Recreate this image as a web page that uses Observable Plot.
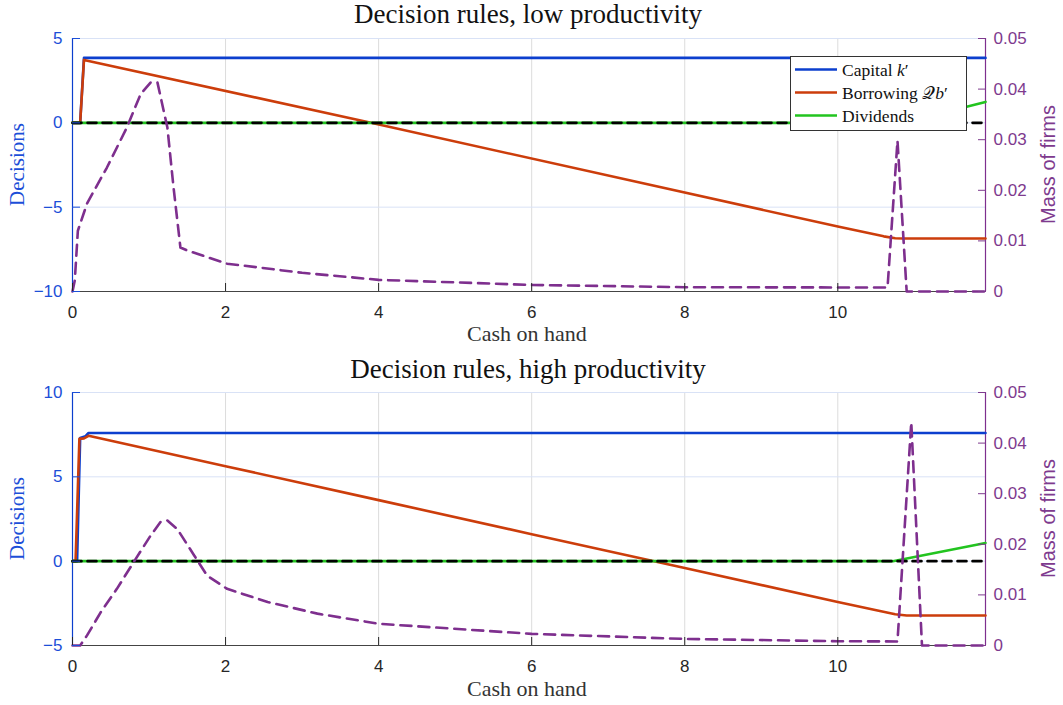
<!DOCTYPE html>
<html><head><meta charset="utf-8">
<script src="https://cdn.jsdelivr.net/npm/d3@7"></script>
<script src="https://cdn.jsdelivr.net/npm/@observablehq/plot@0.6"></script>
<style>
body{margin:0;background:#fff;}
#chart{width:1063px;height:705px;position:relative;}
#chart svg{display:block;}
</style></head><body><div id="chart"></div>
<script>
// ---------- data ----------
const xTicks = [0, 2, 4, 6, 8, 10];
const xMax = 11.93;
const massTicks = [0, 0.01, 0.02, 0.03, 0.04, 0.05];
const lowDecisionTicks = [-10, -5, 0, 5];
const highDecisionTicks = [-5, 0, 5, 10];
const titles = ["Decision rules, low productivity", "Decision rules, high productivity"];
const xLabel = "Cash on hand";
const yLabelLeft = "Decisions";
const yLabelRight = "Mass of firms";

const zeroLine = [[0, 0], [xMax, 0]];

const lowCapital = [[0, 0], [0.1, 0], [0.15, 3.85], [11.93, 3.85]];
const lowBorrowing = [[0, 0], [0.1, 0], [0.15, 3.73], [3.9, 0], [10.0, -6.15], [10.6, -6.73], [10.75, -6.84], [10.85, -6.86], [11.93, -6.86]];
const lowDividends = [[0, 0], [10.85, 0], [11.93, 1.24]];
const lowMass = [[0, 0], [0.03, 0.0022], [0.07, 0.012], [0.19, 0.0174], [0.45, 0.0245], [0.71, 0.0324], [0.89, 0.039], [1.02, 0.0413], [1.11, 0.0413], [1.24, 0.0324], [1.32, 0.0206], [1.41, 0.0087], [1.5, 0.0081], [2.02, 0.0055], [3.0, 0.0037], [4, 0.0023], [6, 0.0013], [8, 0.00085], [10, 0.0008], [10.65, 0.0008], [10.78, 0.0298], [10.9, 0], [11.93, 0]];

const highCapital = [[0, 0], [0.06, 0], [0.1, 7.3], [0.17, 7.41], [0.21, 7.6], [11.93, 7.6]];
const highBorrowing = [[0, 0], [0.04, 0], [0.09, 7.25], [0.15, 7.28], [0.21, 7.43], [2, 5.63], [4, 3.62], [6, 1.6], [8, -0.4], [10, -2.42], [10.55, -2.95], [10.75, -3.15], [10.9, -3.22], [11.93, -3.22]];
const highDividends = [[0, 0], [10.72, 0], [11.93, 1.08]];
const highMass = [[0, 0], [0.1, 0], [0.19, 0.002], [0.37, 0.0066], [0.58, 0.0112], [0.8, 0.0165], [1.02, 0.0217], [1.15, 0.0244], [1.24, 0.0247], [1.37, 0.023], [1.59, 0.0178], [1.76, 0.0138], [2.02, 0.0112], [2.55, 0.0086], [3.2, 0.0063], [4, 0.0043], [6, 0.0023], [8, 0.0013], [10, 0.00085], [10.78, 0.0008], [10.96, 0.0441], [11.1, 0], [11.93, 0]];

// ---------- style ----------
const BLUE = "#0c3fce", RED = "#cc3d0b", GREEN = "#22c41f", PURPLE = "#7e2f8e";
const BLUE_TXT = "#1c4fd8", PURPLE_TXT = "#7e3a8e";
const SERIF = "'Liberation Serif', 'DejaVu Serif', serif";
const SANS = "'Liberation Sans', Arial, sans-serif";

function panel({title, capital, borrowing, dividends, mass, yDomain, yTicks, height, marginTop, marginBottom, titleY, xLabelY, legend}) {
  const span = yDomain[1] - yDomain[0];
  const toDec = m => yDomain[0] + m * span / 0.05;
  const fromDec = d => Math.round((d - yDomain[0]) / span * 0.05 * 100) / 100;
  const pts = a => a.map(([x, y]) => ({x, y}));
  const massPts = mass.map(([x, m]) => ({x, y: toDec(m)}));

  const svg = Plot.plot({
    width: 1063, height, marginLeft: 72, marginRight: 78, marginTop, marginBottom,
    style: {fontFamily: SANS, fontSize: "17px", background: "#fff"},
    x: {domain: [0, xMax]},
    y: {domain: yDomain},
    marks: [
      Plot.gridX({ticks: xTicks.slice(1), stroke: "#dcdcdc", strokeOpacity: 1}),
      Plot.gridY({ticks: yTicks, stroke: "#d9e2f6", strokeOpacity: 1}),
      Plot.ruleY([yDomain[0]], {stroke: "#444", strokeWidth: 1.2}),
      Plot.ruleX([0], {stroke: BLUE, strokeWidth: 1.2}),
      Plot.ruleX([xMax], {stroke: PURPLE, strokeWidth: 1.2}),
      Plot.line(pts(capital), {x: "x", y: "y", stroke: BLUE, strokeWidth: 2.6}),
      Plot.line(pts(borrowing), {x: "x", y: "y", stroke: RED, strokeWidth: 2.6}),
      Plot.line(pts(dividends), {x: "x", y: "y", stroke: GREEN, strokeWidth: 2.6}),
      Plot.line(pts(zeroLine), {x: "x", y: "y", stroke: "#000", strokeWidth: 2.6, strokeDasharray: "9,6"}),
      Plot.line(massPts, {x: "x", y: "y", stroke: PURPLE, strokeWidth: 2.6, strokeDasharray: "11,7"}),
      Plot.axisX({ticks: xTicks, tickSize: -8, tickPadding: 22, color: "#262626", label: null, fontSize: 17}),
      Plot.axisY({ticks: yTicks, tickSize: -8, tickPadding: 18, color: BLUE_TXT, label: null, fontSize: 17}),
      Plot.axisY({anchor: "right", ticks: massTicks.map(toDec), tickFormat: d => { const m = fromDec(d); return m === 0 ? "0" : m.toFixed(2); }, tickSize: -8, tickPadding: 16, color: PURPLE_TXT, label: null, fontSize: 17})
    ]
  });

  const s = d3.select(svg);
  s.append("text").attr("x", 528).attr("y", titleY).attr("text-anchor", "middle")
    .attr("font-family", SERIF).attr("font-size", 27).attr("fill", "#111").text(title);
  s.append("text").attr("x", 527).attr("y", xLabelY).attr("text-anchor", "middle")
    .attr("font-family", SERIF).attr("font-size", 22).attr("fill", "#333").text(xLabel);
  const yMid = marginTop + (height - marginTop - marginBottom) / 2;
  s.append("text").attr("transform", `translate(24,${yMid}) rotate(-90)`).attr("text-anchor", "middle")
    .attr("font-family", SERIF).attr("font-size", 21).attr("fill", BLUE_TXT).text(yLabelLeft);
  s.append("text").attr("transform", `translate(1055,${yMid}) rotate(-90)`).attr("text-anchor", "middle")
    .attr("font-family", SANS).attr("font-size", 20).attr("fill", PURPLE_TXT).text(yLabelRight);

  if (legend) {
    const g = s.append("g").attr("text-anchor", "start");
    g.append("rect").attr("x", 790.5).attr("y", 56.5).attr("width", 176).attr("height", 74)
      .attr("fill", "#fff").attr("stroke", "#333").attr("stroke-width", 1);
    const items = [
      {color: BLUE, parts: [["Capital ", "normal", SERIF], ["k", "italic", SERIF], ["′", "normal", SERIF]]},
      {color: RED, parts: [["Borrowing ", "normal", SERIF], ["𝒬", "normal", "'DejaVu Sans', serif"], ["b", "italic", SERIF], ["′", "normal", SERIF]]},
      {color: GREEN, parts: [["Dividends", "normal", SERIF]]}
    ];
    items.forEach((it, i) => {
      const y = 69.5 + i * 23;
      g.append("line").attr("x1", 795).attr("x2", 837).attr("y1", y).attr("y2", y)
        .attr("stroke", it.color).attr("stroke-width", 2.6);
      const t = g.append("text").attr("x", 842).attr("y", y + 6).attr("text-anchor", "start")
        .attr("font-size", 17.5).attr("fill", "#111");
      it.parts.forEach(([txt, st, ff]) => t.append("tspan").attr("font-style", st).attr("font-family", ff).text(txt));
    });
  }
  return svg;
}

const chart = document.getElementById("chart");
chart.appendChild(panel({title: titles[0], capital: lowCapital, borrowing: lowBorrowing, dividends: lowDividends, mass: lowMass,
  yDomain: [-10, 5], yTicks: lowDecisionTicks, height: 350, marginTop: 38, marginBottom: 59, titleY: 23, xLabelY: 341, legend: true}));
chart.appendChild(panel({title: titles[1], capital: highCapital, borrowing: highBorrowing, dividends: highDividends, mass: highMass,
  yDomain: [-5, 10], yTicks: highDecisionTicks, height: 355, marginTop: 42, marginBottom: 60, titleY: 28, xLabelY: 346, legend: false}));
</script></body></html>
